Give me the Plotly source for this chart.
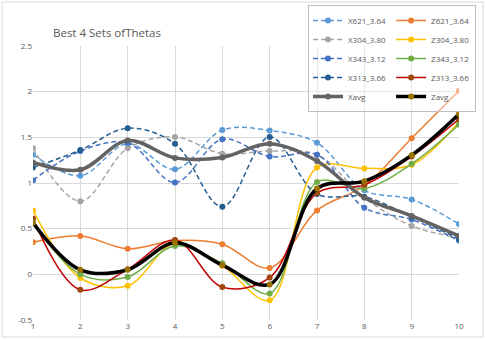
import plotly.graph_objects as go

# Data
steps = [1, 2, 3, 4, 5, 6, 7, 8, 9, 10]

x621 = [1.31, 1.08, 1.43, 1.15, 1.58, 1.575, 1.44, 0.92, 0.82, 0.55]
z621 = [0.35, 0.42, 0.28, 0.37, 0.33, 0.07, 0.70, 0.97, 1.49, 2.01]
x304 = [1.38, 0.80, 1.38, 1.505, 1.32, 1.35, 1.31, 0.84, 0.53, 0.40]
z304 = [0.70, -0.04, -0.125, 0.34, 0.095, -0.285, 1.17, 1.16, 1.20, 1.67]
x343 = [1.03, 1.35, 1.44, 1.005, 1.48, 1.29, 1.31, 0.73, 0.60, 0.37]
z343 = [0.57, 0.0, -0.03, 0.31, 0.12, -0.21, 1.01, 0.94, 1.21, 1.64]
x313 = [1.17, 1.36, 1.60, 1.43, 0.74, 1.505, 0.88, 0.85, 0.63, 0.39]
z313 = [0.61, -0.17, 0.055, 0.375, -0.14, -0.035, 0.89, 0.98, 1.29, 1.70]
xavg = [1.225, 1.145, 1.465, 1.275, 1.28, 1.43, 1.24, 0.84, 0.64, 0.42]
zavg = [0.565, 0.05, 0.05, 0.345, 0.10, -0.11, 0.94, 1.02, 1.305, 1.755]

y_ticks = [-0.5, 0, 0.5, 1, 1.5, 2, 2.5]
y_labels = ["-0.5", "0", "0.5", "1", "1.5", "2", "2.5"]

TEXT_COLOR = "#595959"
GRID_COLOR = "#D9D9D9"
DASH = "5px,3px"

# name, values, line colour, marker colour, width, dash, legend column
series = [
    ("X621_3.64", x621, "#5B9BD5", "#5B9BD5", 1.5, DASH, "X"),
    ("Z621_3.64", z621, "#ED7D31", "#ED7D31", 1.5, "solid", "Z"),
    ("X304_3.80", x304, "#A5A5A5", "#A5A5A5", 1.5, DASH, "X"),
    ("Z304_3.80", z304, "#FFC000", "#FFC000", 1.5, "solid", "Z"),
    ("X343_3.12", x343, "#4472C4", "#4472C4", 1.5, DASH, "X"),
    ("Z343_3.12", z343, "#70AD47", "#70AD47", 1.5, "solid", "Z"),
    ("X313_3.66", x313, "#255E91", "#255E91", 1.5, DASH, "X"),
    ("Z313_3.66", z313, "#C00000", "#9E480E", 1.5, "solid", "Z"),
    ("Xavg", xavg, "#636363", "#636363", 3.5, "solid", "X"),
    ("Zavg", zavg, "#000000", "#997300", 3.5, "solid", "Z"),
]

fig = go.Figure()

for name, vals, lcol, mcol, lw, dash, grp in series:
    fig.add_trace(go.Scatter(
        x=steps, y=vals,
        mode="lines+markers",
        name=name,
        legendgroup=grp,
        line=dict(color=lcol, width=lw, dash=dash, shape="spline", smoothing=1),
        marker=dict(color=mcol, size=6, symbol="circle"),
    ))

fig.update_layout(
    width=485,
    height=340,
    paper_bgcolor="white",
    plot_bgcolor="white",
    margin=dict(l=33, r=26, t=46, b=20, autoexpand=False),
    title=dict(
        text="Best 4 Sets ofThetas",
        x=53 / 485, xanchor="left",
        y=1 - 33 / 340, yanchor="middle",
        font=dict(family="Open Sans", size=11.5, color=TEXT_COLOR),
    ),
    font=dict(family="Open Sans", color=TEXT_COLOR),
    showlegend=True,
    legend=dict(
        orientation="h",
        traceorder="grouped",
        x=(308 - 33) / 426, xanchor="left",
        y=(320 - 5) / 274, yanchor="top",
        bgcolor="rgba(255,255,255,0.4)",
        bordercolor="#BFBFBF",
        borderwidth=1,
        font=dict(size=8, color=TEXT_COLOR),
        tracegroupgap=2,
    ),
    xaxis=dict(
        range=[1, 10],
        tickmode="array",
        tickvals=steps,
        showgrid=True,
        gridcolor=GRID_COLOR,
        gridwidth=1,
        zeroline=False,
        showline=False,
        ticks="",
        tickfont=dict(size=8, color=TEXT_COLOR),
    ),
    yaxis=dict(
        range=[-0.5, 2.5],
        tickmode="array",
        tickvals=y_ticks,
        ticktext=y_labels,
        showgrid=True,
        gridcolor=GRID_COLOR,
        gridwidth=1,
        zeroline=False,
        showline=False,
        ticks="",
        tickfont=dict(size=8, color=TEXT_COLOR),
    ),
)

# outer chart border
fig.add_shape(
    type="rect", xref="paper", yref="paper",
    x0=(2 - 33) / 426, x1=(483 - 33) / 426,
    y0=(320 - 337) / 274, y1=(320 - 2) / 274,
    line=dict(color=GRID_COLOR, width=1),
    fillcolor="rgba(0,0,0,0)",
    layer="below",
)

# drop the default page margin so the figure sits at the window's corner
fig.write_html(
    "out.html",
    config={"displayModeBar": False},
    post_script="document.body.style.margin='0px';",
)
